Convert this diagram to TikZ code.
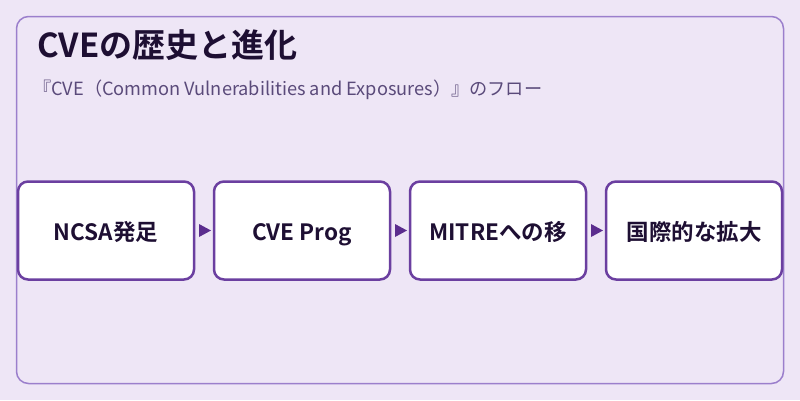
\documentclass[tikz,border=0pt]{standalone}
\usepackage{fontspec}
\setmainfont{Noto Sans CJK JP}
\newfontfamily\jpbold{Noto Sans CJK JP Bold}
\usetikzlibrary{arrows.meta}
\definecolor{bgc}{HTML}{EEE6F6}
\definecolor{framec}{HTML}{9B7FCC}
\definecolor{boxc}{HTML}{6B3FA0}
\definecolor{arrc}{HTML}{5B2D8E}
\definecolor{titlec}{HTML}{1E0F33}
\definecolor{subc}{HTML}{5A4A7A}
\tikzset{
  stepbox/.style={draw=boxc, line width=2.5pt, fill=white, rounded corners=10pt,
    minimum width=176pt, minimum height=98pt, inner sep=0pt,
    text height=20pt, text depth=0pt,
    font=\jpbold\fontsize{22.5}{26}\selectfont, text=titlec},
}
\begin{document}
\begin{tikzpicture}[x=1pt,y=-1pt]
\useasboundingbox (0,0) rectangle (800,400);
\fill[bgc] (0,0) rectangle (800,400);
\draw[framec, line width=1.5pt, rounded corners=12pt, fill=bgc] (16.5,16.5) rectangle (783.5,383.5);
\node[anchor=base west, inner sep=0pt, text=titlec, font=\jpbold\fontsize{33}{38}\selectfont] (title) at (37,57) {CVEの歴史と進化};
\node[anchor=base west, inner sep=0pt, text=subc, font=\fontsize{18.2}{21}\selectfont] (sub) at (33,95) {『CVE（Common Vulnerabilities and Exposures）』のフロー};
\node[stepbox] (b1) at (106,230.5) {NCSA発足};
\node[stepbox] (b2) at (302,230.5) {CVE Prog};
\node[stepbox] (b3) at (498,230.5) {MITREへの移};
\node[stepbox] (b4) at (694,230.5) {国際的な拡大};
\foreach \a/\b in {b1/b2,b2/b3,b3/b4}{
  \path (\a.east) -- (\b.west) coordinate[pos=0.5] (m);
  \fill[arrc] ([xshift=-5pt,yshift=-6.5pt]m) -- ([xshift=7pt]m) -- ([xshift=-5pt,yshift=6.5pt]m) -- cycle;
}
\end{tikzpicture}
\end{document}
